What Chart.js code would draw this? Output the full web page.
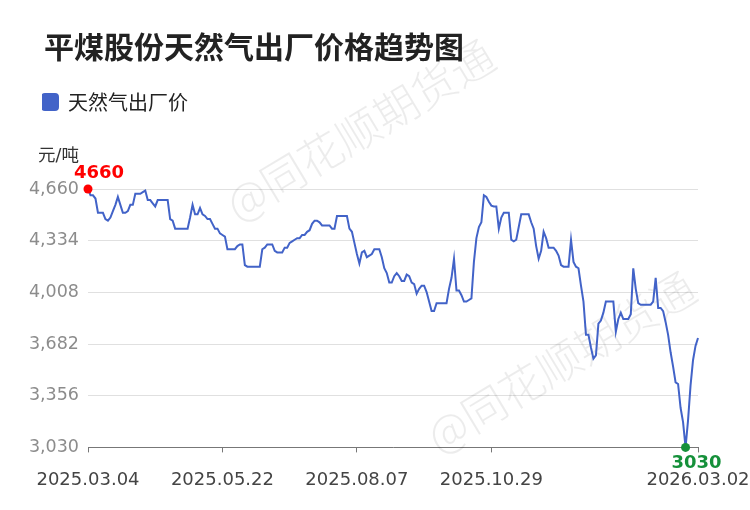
<!DOCTYPE html>
<html>
<head>
<meta charset="utf-8">
<script src="https://cdn.jsdelivr.net/npm/chart.js@4/dist/chart.umd.min.js"></script>
<style>
  html, body { margin: 0; padding: 0; background: #fff; }
  #c { display: block; }
</style>
</head>
<body>
<canvas id="c" width="750" height="510"></canvas>
<script>
// ---- data ----
const chartTitle = '平煤股份天然气出厂价格趋势图';
const seriesName = '天然气出厂价';
const unitLabel = '元/吨';
const watermarkText = '@同花顺期货通';

// daily series (2025.03.04 -> 2026.03.02)
const values = [
4660,4620,4620,4600,4510,4510,4510,4470,4460,4480,
4520,4560,4610,4560,4510,4510,4520,4560,4560,4630,
4630,4630,4640,4650,4590,4590,4570,4550,4590,4590,
4590,4590,4590,4470,4460,4410,4410,4410,4410,4410,
4410,4480,4560,4500,4500,4540,4500,4490,4470,4470,
4440,4410,4410,4380,4370,4360,4280,4280,4280,4280,
4300,4310,4310,4180,4170,4170,4170,4170,4170,4170,
4280,4290,4310,4310,4310,4270,4260,4260,4260,4290,
4290,4320,4330,4340,4350,4350,4370,4370,4390,4400,
4440,4460,4460,4450,4430,4430,4430,4430,4410,4410,
4490,4490,4490,4490,4490,4410,4390,4320,4250,4190,
4260,4270,4230,4240,4250,4280,4280,4280,4230,4160,
4130,4070,4070,4110,4130,4110,4080,4080,4120,4110,
4070,4060,4000,4030,4050,4050,4010,3950,3890,3890,
3940,3940,3940,3940,3940,4030,4100,4220,4020,4020,
3990,3950,3950,3960,3970,4200,4350,4420,4450,4620,
4610,4580,4555,4550,4550,4410,4480,4510,4510,4510,
4340,4330,4340,4420,4500,4500,4500,4500,4450,4410,
4300,4220,4270,4390,4350,4290,4290,4290,4270,4240,
4180,4170,4170,4170,4340,4200,4170,4160,4050,3950,
3740,3740,3660,3590,3610,3810,3830,3880,3950,3950,
3950,3950,3760,3840,3880,3840,3840,3840,3870,4160,
4030,3940,3930,3930,3930,3930,3930,3950,4100,3910,
3910,3890,3820,3740,3630,3540,3440,3430,3280,3190,
3030,3200,3420,3580,3670,3720
];

// x-axis tick labels and the point index each sits on
const tickIndex  = [0, 54, 108, 162, 245];
const tickLabels = ['2025.03.04', '2025.05.22', '2025.08.07', '2025.10.29', '2026.03.02'];

// y-axis range / ticks
const yMin = 3030;
const yMax = 4660;
const yStep = 326;

// ---- styles ----
const lineColor = '#4263c8';
const maxColor = '#ff0000';
const minColor = '#15903a';

const maxIdx = values.indexOf(Math.max(...values));
const minIdx = values.indexOf(Math.min(...values));

Chart.defaults.font.family = "'DejaVu Sans', 'Noto Sans CJK SC', sans-serif";

const legendGap = 67;
const titleLeft = 44;
const legendLeft = 42;
const layoutFix = {
  id: 'layoutFix',
  beforeUpdate(chart) {
    const lg = chart.legend;
    if (lg && !lg._spaced) {
      const orig = lg.fit;
      lg.fit = function () { orig.call(this); this.height += legendGap; };
      lg._spaced = true;
    }
  },
  afterLayout(chart) {
    if (chart.titleBlock) chart.titleBlock.left = titleLeft;
    if (chart.legend) chart.legend.left = legendLeft;
  }
};

const watermark = {
  id: 'watermark',
  beforeDatasetsDraw(chart) {
    const ctx = chart.ctx;
    ctx.save();
    ctx.font = "300 44px 'Noto Sans CJK SC', sans-serif";
    ctx.fillStyle = 'rgba(0,0,0,0.075)';
    ctx.textAlign = 'center';
    ctx.textBaseline = 'middle';
    [[360, 130], [561, 362]].forEach(([x, y]) => {
      ctx.save();
      ctx.translate(x, y);
      ctx.rotate(-31 * Math.PI / 180);
      ctx.fillText(watermarkText, 0, 0);
      ctx.restore();
    });
    ctx.restore();
  }
};

const extras = {
  id: 'extras',
  afterDatasetsDraw(chart) {
    const ctx = chart.ctx;
    const meta = chart.getDatasetMeta(0);
    const area = chart.chartArea;
    ctx.save();
    // unit label
    ctx.font = "17.5px 'DejaVu Sans', 'Noto Sans CJK SC', sans-serif";
    ctx.fillStyle = '#333';
    ctx.textAlign = 'left';
    ctx.textBaseline = 'middle';
    ctx.fillText(unitLabel, area.left - 50, area.top - 33);
    // max / min labels
    ctx.font = "bold 18px 'DejaVu Sans', sans-serif";
    ctx.textAlign = 'center';
    const pMax = meta.data[maxIdx];
    ctx.fillStyle = maxColor;
    ctx.fillText(String(values[maxIdx]), pMax.x + 11, pMax.y - 16);
    const pMin = meta.data[minIdx];
    ctx.fillStyle = minColor;
    ctx.fillText(String(values[minIdx]), pMin.x + 11, pMin.y + 16);
    ctx.restore();
  }
};

new Chart(document.getElementById('c'), {
  type: 'line',
  data: {
    labels: values.map((_, i) => String(i)),
    datasets: [{
      label: seriesName,
      data: values,
      borderColor: lineColor,
      backgroundColor: lineColor,
      borderWidth: 2,
      tension: 0,
      pointRadius: values.map((v, i) => (i === maxIdx || i === minIdx) ? 4.5 : 0),
      pointBackgroundColor: values.map((v, i) => i === maxIdx ? maxColor : (i === minIdx ? minColor : lineColor)),
      pointBorderWidth: 0,
      clip: false
    }]
  },
  options: {
    responsive: false,
    animation: false,
    devicePixelRatio: 1,
    layout: { padding: { top: 10, left: 28, right: 52, bottom: 2 } },
    plugins: {
      title: {
        display: true,
        text: chartTitle,
        align: 'start',
        color: '#222',
        font: { size: 30, weight: 'bold', family: "'Noto Sans CJK SC', sans-serif" },
        padding: { top: 19, bottom: 27 }
      },
      legend: {
        display: true,
        position: 'top',
        align: 'start',
        labels: {
          boxWidth: 16,
          boxHeight: 16,
          useBorderRadius: true,
          borderRadius: 3,
          padding: 0,
          color: '#222',
          font: { size: 20, family: "'Noto Sans CJK SC', sans-serif" }
        }
      },
      tooltip: { enabled: false }
    },
    scales: {
      x: {
        type: 'category',
        offset: false,
        afterBuildTicks: (scale) => { scale.ticks = tickIndex.map(v => ({ value: v })); },
        afterFit: (scale) => { scale.paddingLeft = 0; scale.paddingRight = 0; },
        ticks: {
          autoSkip: false,
          maxRotation: 0,
          minRotation: 0,
          padding: 17,
          color: '#444',
          font: { size: 18 },
          callback: (value) => tickLabels[tickIndex.indexOf(value)]
        },
        grid: { display: true, drawOnChartArea: false, drawTicks: true, tickLength: 5, color: '#777' },
        border: { display: true, color: '#777', width: 1 }
      },
      y: {
        min: yMin,
        max: yMax,
        afterFit: (scale) => { scale.width = 60; },
        ticks: {
          stepSize: yStep,
          padding: 9,
          color: '#8c8c8c',
          font: { size: 17.5 }
        },
        grid: { color: '#e0e0e0', drawTicks: false },
        border: { display: false }
      }
    }
  },
  plugins: [layoutFix, watermark, extras]
});
</script>
</body>
</html>
